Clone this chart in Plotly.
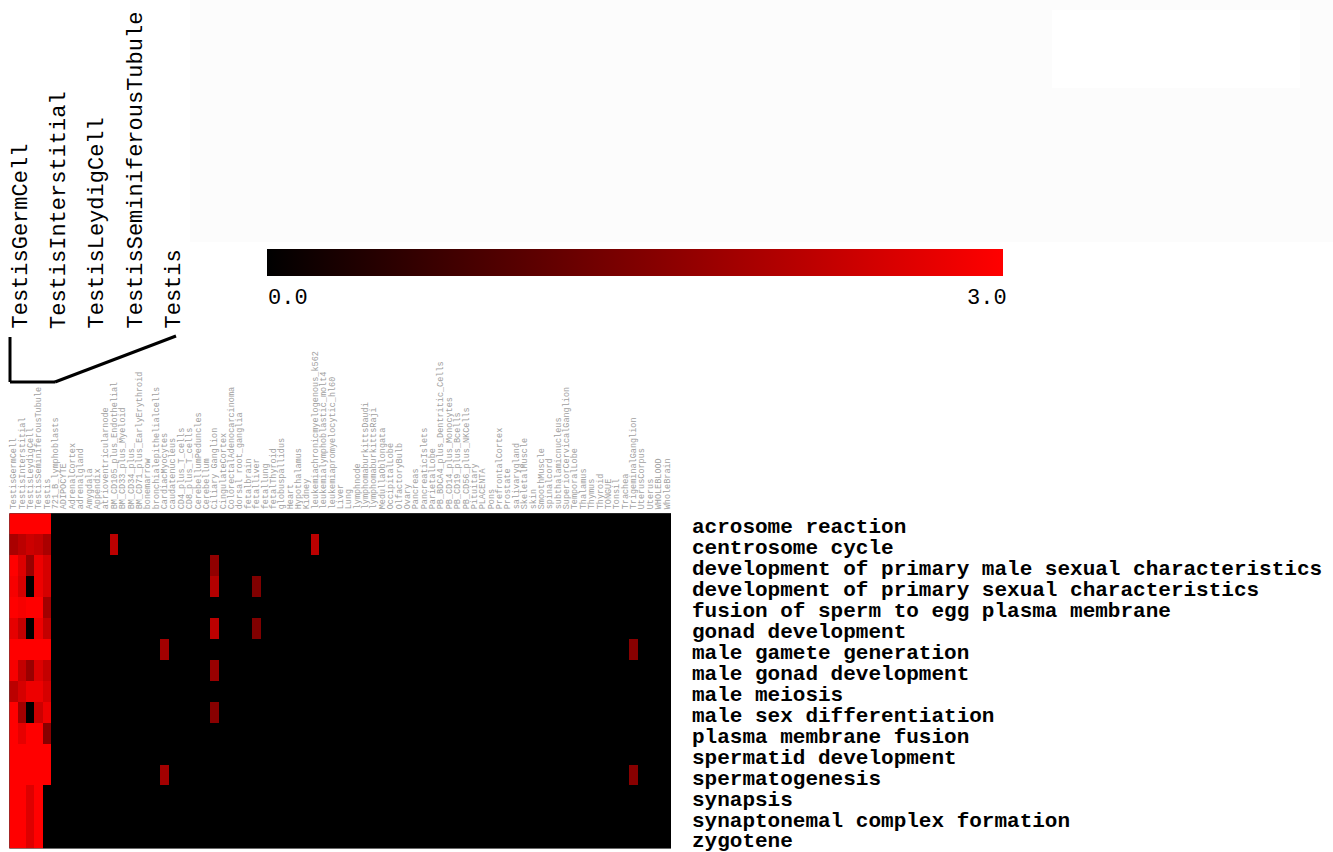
import plotly.graph_objects as go

W, H = 1333, 852

# Tissues (columns)
tissues = [
    "TestisGermCell", "TestisInterstitial", "TestisLeydigCell", "TestisSeminiferousTubule", "Testis",
    "721_B_lymphoblasts", "ADIPOCYTE", "AdrenalCortex", "adrenalgland", "Amygdala", "Appendix",
    "atrioventricularnode", "BM_CD105_plus_Endothelial", "BM_CD33_plus_Myeloid", "BM_CD34_plus_",
    "BM_CD71_plus_EarlyErythroid", "bonemarrow", "bronchialepithelialcells", "CardiacMyocytes",
    "caudatenucleus", "CD4_plus_T_cells", "CD8_plus_T_cells", "CerebellumPeduncles", "Cerebellum",
    "Ciliary Ganglion", "CingulateCortex", "ColorectalAdenocarcinoma", "dorsal root_ganglia",
    "fetalbrain", "fetalliver", "fetallung", "fetalThyroid", "globuspallidus", "Heart",
    "Hypothalamus", "Kidney", "leukemiachronicmyelogenous_k562", "leukemialymphoblastic_molt4",
    "leukemiapromyelocytic_hl60", "Liver", "Lung", "lymphnode", "lymphomaburkittsDaudi",
    "lymphomaburkittsRaji", "MedullaOblongata", "OccipitalLobe", "OlfactoryBulb", "Ovary",
    "Pancreas", "PancreaticIslets", "ParietalLobe", "PB_BDCA4_plus_Dentritic_Cells",
    "PB_CD14_plus_Monocytes", "PB_CD19_plus_Bcells", "PB_CD56_plus_NKCells", "Pituitary",
    "PLACENTA", "Pons", "PrefrontalCortex", "Prostate", "salivarygland", "SkeletalMuscle", "skin",
    "SmoothMuscle", "spinalcord", "subthalamicnucleus", "SuperiorCervicalGanglion", "TemporalLobe",
    "Thalamus", "Thymus", "Thyroid", "TONGUE", "Tonsil", "Trachea", "TrigeminalGanglion",
    "UterusCorpus", "Uterus", "WHOLEBLOOD", "WholeBrain",
]

# GO terms (rows)
go_terms = [
    "acrosome reaction", "centrosome cycle", "development of primary male sexual characteristics",
    "development of primary sexual characteristics", "fusion of sperm to egg plasma membrane",
    "gonad development", "male gamete generation", "male gonad development", "male meiosis",
    "male sex differentiation", "plasma membrane fusion", "spermatid development",
    "spermatogenesis", "synapsis", "synaptonemal complex formation", "zygotene",
]

# Scores in the five testis tissues, one list per GO term
testis_scores = [
    [3.0, 3.0, 3.0, 3.0, 3.0],
    [2.0, 2.2, 2.4, 2.3, 2.0],
    [3.0, 2.6, 1.8, 2.8, 2.5],
    [2.9, 2.5, 0.0, 2.8, 2.5],
    [3.0, 2.9, 3.0, 3.0, 1.9],
    [2.7, 2.3, 0.0, 2.8, 2.3],
    [3.0, 3.0, 3.0, 3.0, 3.0],
    [2.9, 2.3, 1.8, 2.6, 2.3],
    [2.2, 2.5, 2.8, 2.8, 2.5],
    [3.0, 1.9, 0.0, 2.4, 2.8],
    [3.0, 2.7, 3.0, 3.0, 1.6],
    [3.0, 3.0, 3.0, 3.0, 3.0],
    [3.0, 3.0, 3.0, 3.0, 3.0],
    [3.0, 3.0, 2.6, 3.0, 0.0],
    [3.0, 3.0, 2.6, 3.0, 0.0],
    [3.0, 3.0, 2.6, 3.0, 0.0],
]

# Non-zero scores outside the testis tissues
hit_terms = [
    "centrosome cycle", "centrosome cycle",
    "development of primary male sexual characteristics",
    "development of primary sexual characteristics", "development of primary sexual characteristics",
    "gonad development", "gonad development",
    "male gamete generation", "male gamete generation",
    "male gonad development", "male sex differentiation",
    "spermatogenesis", "spermatogenesis",
]
hit_tissues = [
    "BM_CD105_plus_Endothelial", "leukemiachronicmyelogenous_k562",
    "Ciliary Ganglion",
    "Ciliary Ganglion", "fetalliver",
    "Ciliary Ganglion", "fetalliver",
    "CardiacMyocytes", "TrigeminalGanglion",
    "Ciliary Ganglion", "Ciliary Ganglion",
    "CardiacMyocytes", "TrigeminalGanglion",
]
hit_scores = [2.2, 2.2, 1.7, 2.1, 1.5, 2.2, 1.5, 1.9, 1.6, 1.8, 1.6, 1.9, 1.6]

# Cluster labels shown above the dendrogram
cluster_labels = ["TestisGermCell", "TestisInterstitial", "TestisLeydigCell",
                  "TestisSeminiferousTubule", "Testis"]

z = [[0.0] * len(tissues) for _ in go_terms]
for r, row in enumerate(testis_scores):
    for c, v in enumerate(row):
        z[r][c] = v
for t, s, v in zip(hit_terms, hit_tissues, hit_scores):
    z[go_terms.index(t)][tissues.index(s)] = v


def px(x):
    return x / W


def py(y):
    return 1 - y / H


MONO = "Liberation Mono, Courier New, monospace"

fig = go.Figure()
fig.add_trace(go.Heatmap(
    z=z, x=tissues, y=go_terms,
    zmin=0, zmax=3,
    colorscale=[[0, "#000000"], [1, "#ff0000"]],
    showscale=True,
    colorbar=dict(
        orientation="h",
        lenmode="pixels", len=736,
        thickness=27, thicknessmode="pixels",
        x=px(267), xanchor="left",
        y=py(249), yanchor="top",
        xpad=0, ypad=0,
        outlinewidth=0,
        showticklabels=False, ticks="",
    ),
    hoverongaps=False,
))

fig.update_xaxes(
    domain=[px(9.3), px(671)],
    side="top", tickangle=-90, automargin=False,
    tickfont=dict(family=MONO, size=8.5, color="#a0a0a0"),
    ticks="", ticklabelstandoff=3,
    showgrid=False, zeroline=False, showline=False,
    tickmode="array", tickvals=tissues, ticktext=tissues,
)
# Row labels sit slightly below each row's centre line
fig.update_yaxes(
    domain=[py(848.5), py(513.3)],
    side="right", automargin=False,
    range=[len(go_terms) - 0.5, -0.5],
    tickfont=dict(family=MONO, size=21, color="#000000", weight="bold"),
    ticks="", ticklabelstandoff=20,
    showgrid=False, zeroline=False, showline=False,
    tickmode="array",
    tickvals=[i + 0.1 for i in range(len(go_terms))],
    ticktext=go_terms,
)

# Faint panel behind the colour bar area
fig.add_shape(type="rect", xref="paper", yref="paper",
              x0=px(190), x1=1, y0=py(242), y1=1,
              fillcolor="#fcfcfc", line_width=0, layer="below")
fig.add_shape(type="rect", xref="paper", yref="paper",
              x0=px(1052), x1=px(1300), y0=py(88), y1=py(10),
              fillcolor="#ffffff", line_width=0, layer="below")

# Colour bar end labels
fig.add_annotation(x=px(266), y=py(298), xref="paper", yref="paper",
                   text="0.0", showarrow=False, xanchor="left", yanchor="middle",
                   font=dict(family=MONO, size=22, color="#000000"))
fig.add_annotation(x=px(1009), y=py(298), xref="paper", yref="paper",
                   text="3.0", showarrow=False, xanchor="right", yanchor="middle",
                   font=dict(family=MONO, size=22, color="#000000"))

# Dendrogram joining the testis tissues
line = dict(color="#000000", width=3)
fig.add_shape(type="line", xref="paper", yref="paper",
              x0=px(10), y0=py(337), x1=px(10), y1=py(382), line=line)
fig.add_shape(type="line", xref="paper", yref="paper",
              x0=px(10), y0=py(382), x1=px(55), y1=py(382), line=line)
fig.add_shape(type="line", xref="paper", yref="paper",
              x0=px(55), y0=py(382), x1=px(176), y1=py(336), line=line)

label_x = [21, 59, 97, 136, 174]
for lx, name in zip(label_x, cluster_labels):
    fig.add_annotation(x=px(lx), y=py(331), xref="paper", yref="paper",
                       text=name, showarrow=False, textangle=-90,
                       xanchor="center", yanchor="bottom",
                       font=dict(family=MONO, size=22, color="#000000"))

fig.update_layout(
    width=W, height=H,
    margin=dict(l=0, r=0, t=0, b=0),
    paper_bgcolor="#ffffff", plot_bgcolor="#000000",
    showlegend=False,
)

fig.write_html("out.html")
